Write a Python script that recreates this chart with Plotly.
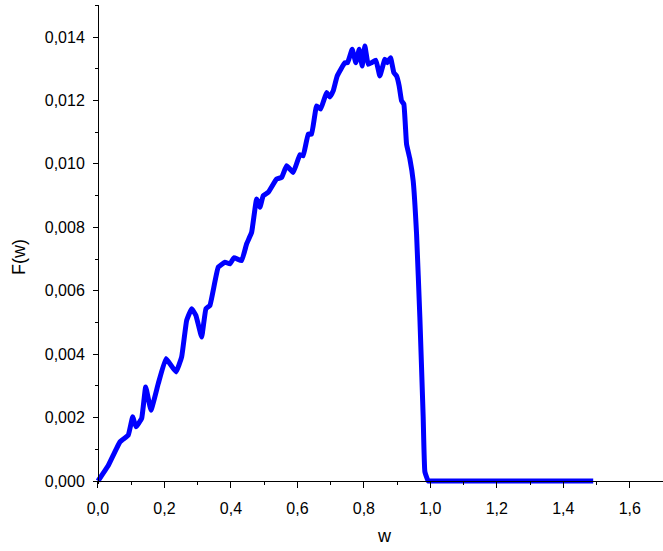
import plotly.graph_objects as go

w = [0.0, 0.030, 0.0662, 0.0911, 0.1044, 0.1143, 0.1314, 0.1435, 0.1594, 0.1814,
     0.2045, 0.2346, 0.2517, 0.2668, 0.2818, 0.2947, 0.3119, 0.3248, 0.3368, 0.3618,
     0.3820, 0.3970, 0.4090, 0.4322, 0.4472, 0.4623, 0.4773, 0.4872, 0.4971, 0.5122,
     0.5374, 0.5525, 0.5675, 0.5874, 0.6075, 0.6174, 0.6325, 0.6427, 0.6577, 0.6698,
     0.6878, 0.6977, 0.7077, 0.7197, 0.7429, 0.7510, 0.7648, 0.7759, 0.7859, 0.7949,
     0.8030, 0.8129, 0.8232, 0.8361, 0.8481, 0.8632, 0.8701, 0.8803, 0.8902, 0.8983,
     0.9062, 0.9134, 0.9203, 0.9284, 0.9383, 0.9483, 0.9585, 0.9684, 0.9784, 0.9835,
     0.9934, 1.0, 1.49]
F = [0.0, 0.00047, 0.001236, 0.001447, 0.002023, 0.001708, 0.001973, 0.002967, 0.002234, 0.003074,
     0.003860, 0.003439, 0.003911, 0.005065, 0.005433, 0.005222, 0.004540, 0.005433, 0.005537, 0.006742,
     0.006899, 0.006849, 0.007038, 0.006953, 0.007478, 0.007843, 0.008894, 0.008630, 0.008998, 0.009102,
     0.009523, 0.009574, 0.009942, 0.009731, 0.010288, 0.010256, 0.010939, 0.010939, 0.011829, 0.011726,
     0.012248, 0.012112, 0.012301, 0.012773, 0.013191, 0.013191, 0.013613, 0.013191, 0.013613, 0.013088,
     0.013717, 0.013141, 0.013191, 0.013267, 0.012773, 0.013298, 0.013191, 0.013349, 0.012877, 0.012773,
     0.012458, 0.011986, 0.011883, 0.010624, 0.010162, 0.009470, 0.007793, 0.005169, 0.002023, 0.000293,
     0.0, 0.0, 0.0]

x_title = "w"
y_title = "F(w)"

fig = go.Figure()
fig.add_trace(go.Scatter(x=w, y=F, mode="lines",
                         line=dict(color="#0000FF", width=5, shape="spline", smoothing=0.3)))

font_family = "Liberation Sans, Arial, sans-serif"
xmin, xmax = -0.009, 1.7
ymin, ymax = -0.0000944, 0.01501

L, R, T, B = 95, 0, 5, 67
pw = 663 - L - R
ph = 551 - T - B

fig.update_layout(
    width=663, height=551,
    margin=dict(l=L, r=R, t=T, b=B),
    paper_bgcolor="white", plot_bgcolor="white",
    showlegend=False,
    separators=", ",
    font=dict(family=font_family, size=16, color="black"),
    xaxis=dict(range=[xmin, xmax], tickmode="linear", tick0=0, dtick=0.2, tickformat=".1f",
               ticks="outside", ticklen=6, tickwidth=1, tickcolor="black",
               showline=True, linecolor="black", linewidth=1, showgrid=False, zeroline=False,
               anchor="free", position=(0 - ymin) / (ymax - ymin),
               ticklabelstandoff=7,
               minor=dict(ticks="outside", ticklen=3, dtick=0.1, tick0=0, tickcolor="black", showgrid=False),
               tickfont=dict(size=16)),
    yaxis=dict(range=[ymin, ymax], tickmode="linear", tick0=0, dtick=0.002, tickformat=".3f",
               ticks="outside", ticklen=5, tickwidth=1, tickcolor="black",
               showline=True, linecolor="black", linewidth=1, showgrid=False, zeroline=False,
               anchor="free", position=(0 - xmin) / (xmax - xmin),
               ticklabelstandoff=5,
               minor=dict(ticks="outside", ticklen=3, dtick=0.001, tick0=0, tickcolor="black", showgrid=False),
               tickfont=dict(size=16)),
    annotations=[
        dict(text=x_title, x=(384 - L) / pw, y=(551 - B - 536) / ph, xref="paper", yref="paper",
             showarrow=False, font=dict(size=18), xanchor="center", yanchor="middle"),
        dict(text=y_title, x=(19 - L) / pw, y=(551 - B - 257) / ph, xref="paper", yref="paper",
             showarrow=False, font=dict(size=18), textangle=-90, xanchor="center", yanchor="middle"),
    ],
)

fig.write_html("out.html")
